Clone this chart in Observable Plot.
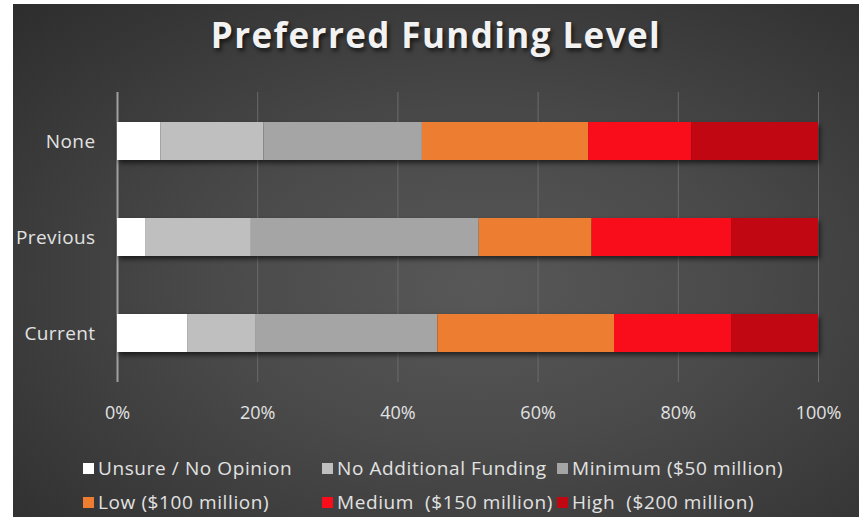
<!DOCTYPE html>
<html>
<head>
<meta charset="utf-8">
<script src="https://cdn.jsdelivr.net/npm/d3@7"></script>
<script src="https://cdn.jsdelivr.net/npm/@observablehq/plot@0.6"></script>
<style>
  html, body { margin: 0; padding: 0; background: #ffffff; }
  #wrap { position: relative; width: 859px; height: 517px; overflow: hidden; font-family: "Open Sans", sans-serif; }
  #bg { position: absolute; left: 13px; top: 4px; right: 0; bottom: 0;
        background: radial-gradient(ellipse farthest-corner at 55% 55%, #585858 0%, #4a4a4a 40%, #2d2d2d 100%); }
  #chart { position: absolute; left: 0; top: 0; }
  #title { position: absolute; left: 13px; right: 0; top: 17px; text-align: center; color: #f2f2f2;
           font-size: 35px; line-height: 35px; font-weight: 700; letter-spacing: 1.4px;
           text-shadow: 2px 3px 4px rgba(0,0,0,0.65); }
  #legend { position: absolute; left: 83px; top: 451px; display: grid;
            grid-template-columns: 239px 235px auto; grid-auto-rows: 34px; color: #e2e2e2;
            font-size: 19px; letter-spacing: 0.6px; }
  .item { display: flex; align-items: center; white-space: pre; }
  .sw { width: 11px; height: 11px; margin-right: 4px; flex: none; }
  svg g[aria-label="bar"] { filter: drop-shadow(2px 3px 2.5px rgba(0,0,0,0.6)); }
  svg g[aria-label="y-axis tick label"] text { letter-spacing: 0.4px; }
</style>
</head>
<body>
<div id="wrap">
  <div id="bg"></div>
  <div id="title">Preferred Funding Level</div>
  <div id="chart"></div>
  <div id="legend"></div>
</div>
<script>
const groups = ["None", "Previous", "Current"];
const levels = ["Unsure / No Opinion", "No Additional Funding", "Minimum ($50 million)", "Low ($100 million)", "Medium  ($150 million)", "High  ($200 million)"];
const colors = ["#ffffff", "#bfbfbf", "#a5a5a5", "#ed7d31", "#f90d1b", "#c00712"];
const noneValues = [6.2, 14.7, 22.6, 23.7, 14.7, 18.1];
const previousValues = [4.0, 15.1, 32.5, 16.1, 19.9, 12.4];
const currentValues = [10.0, 9.8, 25.9, 25.2, 16.7, 12.4];
const xTicks = [0, 20, 40, 60, 80, 100];

const series = {None: noneValues, Previous: previousValues, Current: currentValues};
const data = [];
for (const g of groups) {
  series[g].forEach((v, i) => data.push({group: g, level: levels[i], order: i, value: v}));
}

const chart = Plot.plot({
  width: 859,
  height: 517,
  marginLeft: 117,
  marginRight: 41,
  marginTop: 92,
  marginBottom: 135,
  style: {background: "transparent", fontFamily: "Open Sans, sans-serif", overflow: "visible"},
  x: {domain: [0, 100]},
  y: {domain: groups, paddingInner: 0.6, paddingOuter: 0.3},
  color: {domain: levels, range: colors},
  marks: [
    Plot.gridX(xTicks.slice(1), {stroke: "#6b6b6b", strokeOpacity: 1, strokeWidth: 1}),
    Plot.ruleX([0], {stroke: "#a0a0a0", strokeWidth: 2}),
    Plot.barX(data, Plot.stackX({x: "value", y: "group", fill: "level", order: "order"})),
    Plot.axisX(xTicks, {tickSize: 0, tickPadding: 24, tickFormat: d => d + "%", fontSize: 18, fill: "#e2e2e2", label: null}),
    Plot.axisY({tickSize: 0, tickPadding: 22, fontSize: 19, fill: "#e2e2e2", label: null})
  ]
});
document.getElementById("chart").appendChild(chart);

const legend = document.getElementById("legend");
levels.forEach((name, i) => {
  const item = document.createElement("div");
  item.className = "item";
  const sw = document.createElement("span");
  sw.className = "sw";
  sw.style.background = colors[i];
  const t = document.createElement("span");
  t.textContent = name;
  item.appendChild(sw);
  item.appendChild(t);
  legend.appendChild(item);
});
</script>
</body>
</html>
